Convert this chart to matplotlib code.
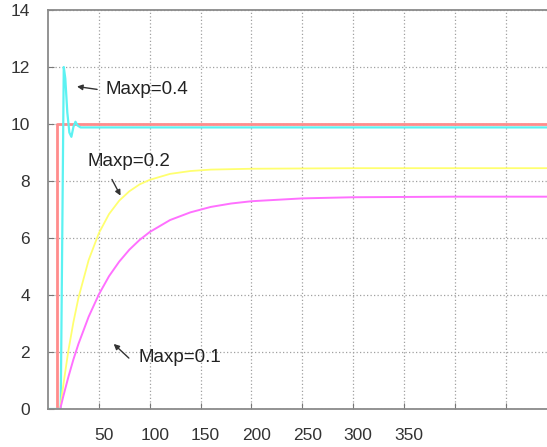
import matplotlib
matplotlib.use("Agg")
import matplotlib.pyplot as plt
import matplotlib.transforms as mtransforms

plt.rcParams['font.family'] = ['Liberation Sans', 'DejaVu Sans']

# reference step (red)
step_x = [0, 9, 9, 496]
step_y = [0, 0, 10, 10]

# Maxp=0.4 (cyan)
cyan_x = [0, 12.5, 14, 15.5, 17, 19, 21, 23, 25, 27, 29, 32, 40, 496]
cyan_y = [0, 0, 6.0, 12.0, 11.6, 10.4, 9.7, 9.55, 9.9, 10.08, 9.95, 9.88, 9.88, 9.88]

# Maxp=0.2 (yellow)
yel_x = [12, 15, 20, 25, 30, 40, 50, 60, 70, 80, 90, 100, 120, 140, 160, 200, 300, 496]
yel_y = [0, 0.83, 2.04, 3.05, 3.91, 5.23, 6.17, 6.84, 7.31, 7.64, 7.88, 8.04, 8.25, 8.35,
         8.40, 8.43, 8.45, 8.45]

# Maxp=0.1 (magenta)
mag_x = [12, 15, 20, 25, 30, 40, 50, 60, 70, 80, 90, 100, 120, 140, 160, 180, 200, 250,
         300, 400, 496]
mag_y = [0, 0.44, 1.12, 1.74, 2.29, 3.24, 4.02, 4.66, 5.17, 5.59, 5.93, 6.21, 6.63, 6.90,
         7.09, 7.21, 7.29, 7.39, 7.43, 7.45, 7.45]

x_ticks = [50, 100, 150, 200, 250, 300, 350, 400, 450]
x_labels = ["50", "100", "150", "200", "250", "300", "350", "", ""]
y_ticks = [0, 2, 4, 6, 8, 10, 12, 14]

fig = plt.figure(figsize=(5.47, 4.47), dpi=100)
ax = fig.add_axes([48 / 547, 38 / 447, 1 - 48 / 547 + 0.01, 399 / 447])

ax.plot(step_x, step_y, color="#ff8c8c", lw=2.0)
ax.plot(cyan_x, cyan_y, color="#5cf2f2", lw=1.6)
ax.plot(yel_x, yel_y, color="#ffff70", lw=1.3)
ax.plot(mag_x, mag_y, color="#ff70ff", lw=1.4)

ax.set_xlim(0, 496)
ax.set_ylim(0, 14)
ax.set_xticks(x_ticks)
ax.set_xticklabels(x_labels)
ax.set_yticks(y_ticks)
ax.grid(True, color="#a0a0a0", linestyle=(0, (1, 1.8)), lw=0.9)
ax.tick_params(direction="in", length=4, color="#777777", labelsize=12.5,
               labelcolor="#333333")
ax.tick_params(axis="x", pad=14)
ax.tick_params(axis="y", pad=13)
for lbl in ax.get_xticklabels():
    lbl.set_transform(lbl.get_transform() + mtransforms.ScaledTranslation(5 / 100, 0, fig.dpi_scale_trans))

for side in ["left", "bottom", "top"]:
    ax.spines[side].set_color("#8a8a8a")
    ax.spines[side].set_linewidth(1.3)
ax.spines["right"].set_visible(False)

arrow = dict(arrowstyle="-|>", color="#333333", lw=1.0, mutation_scale=8)
ax.annotate("", xy=(25.8, 11.33), xytext=(51, 11.2), arrowprops=arrow)
ax.text(56.5, 11.2, "Maxp=0.4", fontsize=13.5, color="#222222", va="center", ha="left")

ax.annotate("", xy=(72.6, 7.40), xytext=(61.6, 8.14), arrowprops=arrow)
ax.text(38.8, 8.67, "Maxp=0.2", fontsize=13.5, color="#222222", va="center", ha="left")

ax.annotate("", xy=(62.6, 2.35), xytext=(81.5, 1.72), arrowprops=arrow)
ax.text(88.5, 1.79, "Maxp=0.1", fontsize=13.5, color="#222222", va="center", ha="left")

fig.savefig("out.png", dpi=100)
